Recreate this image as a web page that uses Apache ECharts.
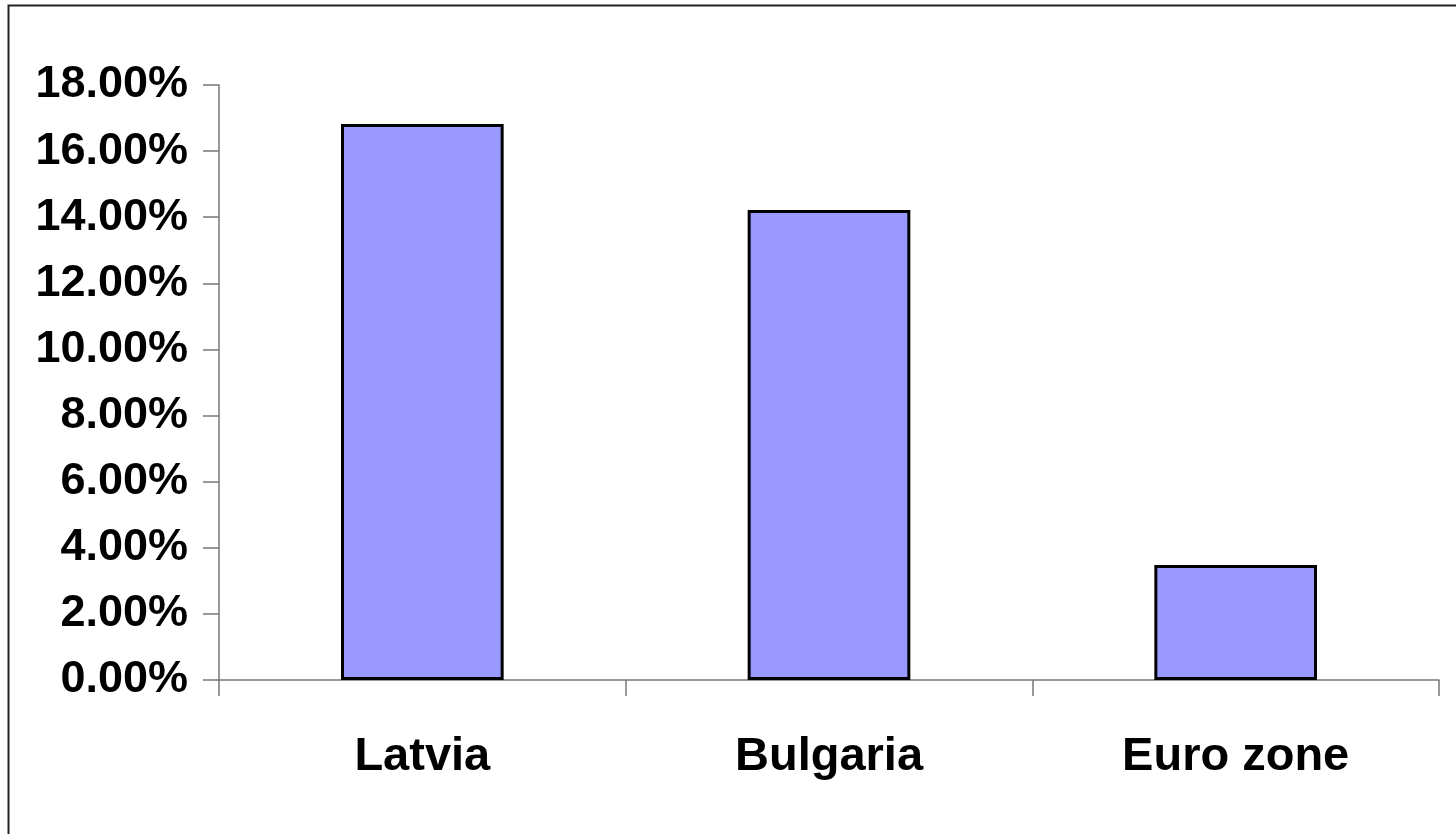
<!DOCTYPE html>
<html>
<head>
<meta charset="utf-8">
<script src="https://cdn.jsdelivr.net/npm/echarts@6/dist/echarts.min.js"></script>
<style>html,body{margin:0;padding:0;background:#fff;}#c{width:1456px;height:834px;}</style>
</head>
<body>
<div id="c"></div>
<script>
const categories = ['Latvia', 'Bulgaria', 'Euro zone'];
const values = [16.82, 14.22, 3.48];
const yMin = 0, yMax = 18, yStep = 2;

const chart = echarts.init(document.getElementById('c'), null, {renderer: 'canvas'});
const font = '"Liberation Sans", Arial, sans-serif';
chart.setOption({
  animation: false,
  backgroundColor: '#ffffff',
  graphic: [{
    type: 'rect', silent: true,
    shape: {x: 8.5, y: 5.5, width: 1470, height: 850},
    style: {fill: 'none', stroke: '#222', lineWidth: 2}
  }],
  grid: {left: 219, right: 17, top: 85, bottom: 154, containLabel: false},
  xAxis: {
    type: 'category', data: categories,
    axisLine: {lineStyle: {color: '#777', width: 1.5}},
    axisTick: {show: true, length: 16, alignWithLabel: false, lineStyle: {color: '#777', width: 1.5}},
    axisLabel: {color: '#000', fontFamily: font, fontWeight: 'bold', fontSize: 47, margin: 54}
  },
  yAxis: {
    type: 'value', min: yMin, max: yMax, interval: yStep,
    axisLine: {show: true, lineStyle: {color: '#777', width: 1.5}},
    axisTick: {show: true, length: 16, lineStyle: {color: '#777', width: 1.5}},
    splitLine: {show: false},
    axisLabel: {color: '#000', fontFamily: font, fontWeight: 'bold', fontSize: 45, margin: 31,
      formatter: v => v.toFixed(2) + '%'}
  },
  series: [{
    type: 'bar', data: values, barWidth: '40%',
    itemStyle: {color: '#9999ff', borderColor: '#000', borderWidth: 3}
  }]
});
</script>
</body>
</html>
